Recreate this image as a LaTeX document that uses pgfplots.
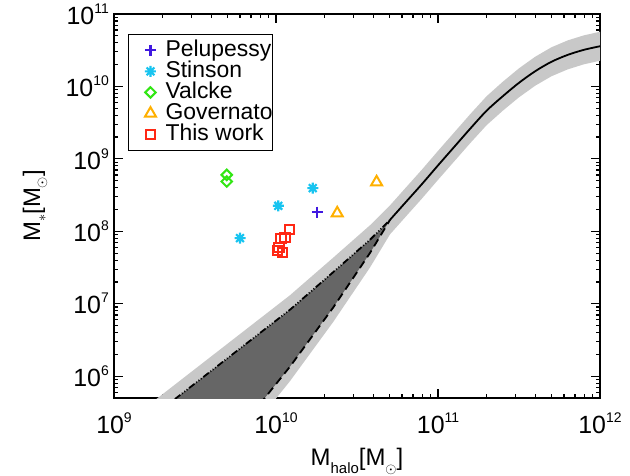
\documentclass[border=0pt]{standalone}
\usepackage{pgfplots}
\pgfplotsset{compat=1.18}
\usepackage{fontspec}
\setmainfont{Liberation Sans}
\definecolor{lgray}{RGB}{200,200,200}
\definecolor{dgray}{RGB}{102,102,102}
\definecolor{cpel}{RGB}{64,24,224}
\definecolor{csti}{RGB}{24,196,240}
\definecolor{cval}{RGB}{50,230,20}
\definecolor{cgov}{RGB}{255,176,0}
\definecolor{cthis}{RGB}{255,40,20}
\newcommand{\tl}[1]{10\raisebox{11bp}{\fontsize{14}{14}\selectfont #1}}
\pgfdeclareplotmark{ast8}{%
 \pgfpathmoveto{\pgfqpoint{-\pgfplotmarksize}{0pt}}\pgfpathlineto{\pgfqpoint{\pgfplotmarksize}{0pt}}%
 \pgfpathmoveto{\pgfqpoint{0pt}{-\pgfplotmarksize}}\pgfpathlineto{\pgfqpoint{0pt}{\pgfplotmarksize}}%
 \pgfpathmoveto{\pgfqpoint{-0.707\pgfplotmarksize}{-0.707\pgfplotmarksize}}\pgfpathlineto{\pgfqpoint{0.707\pgfplotmarksize}{0.707\pgfplotmarksize}}%
 \pgfpathmoveto{\pgfqpoint{-0.707\pgfplotmarksize}{0.707\pgfplotmarksize}}\pgfpathlineto{\pgfqpoint{0.707\pgfplotmarksize}{-0.707\pgfplotmarksize}}%
 \pgfusepathqstroke}
\begin{document}
\begin{tikzpicture}
\path[use as bounding box] (-114bp,-78bp) rectangle (516bp,398bp);
\begin{axis}[
 at={(0,0)}, anchor=south west,
 scale only axis, width=486bp, height=384bp,
 xmin=9, xmax=12, ymin=5.69897, ymax=11,
 xtick={9,10,11,12}, xticklabels={\tl{9},\tl{10},\tl{11},\tl{12}},
 ytick={6,7,8,9,10,11}, yticklabels={\tl{6},\tl{7},\tl{8},\tl{9},\tl{10},\tl{11}},
 minor xtick={9.30103,9.47712,9.60206,9.69897,9.77815,9.84510,9.90309,9.95424,
   10.30103,10.47712,10.60206,10.69897,10.77815,10.84510,10.90309,10.95424,
   11.30103,11.47712,11.60206,11.69897,11.77815,11.84510,11.90309,11.95424},
 minor ytick={5.77815,5.84510,5.90309,5.95424,
   6.30103,6.47712,6.60206,6.69897,6.77815,6.84510,6.90309,6.95424,
   7.30103,7.47712,7.60206,7.69897,7.77815,7.84510,7.90309,7.95424,
   8.30103,8.47712,8.60206,8.69897,8.77815,8.84510,8.90309,8.95424,
   9.30103,9.47712,9.60206,9.69897,9.77815,9.84510,9.90309,9.95424,
   10.30103,10.47712,10.60206,10.69897,10.77815,10.84510,10.90309,10.95424},
 tick align=inside, xtick pos=both, ytick pos=both,
 major tick length=9bp, minor tick length=4.5bp,
 every tick/.style={black, line width=1.2bp},
 axis line style={line width=1.6bp},
 tick label style={font=\fontsize{25}{25}\selectfont, inner sep=0pt},
 xticklabel style={anchor=base, yshift=-35bp},
 yticklabel style={anchor=east, xshift=-5bp},
 xlabel={M\raisebox{-8bp}{\fontsize{15}{15}\selectfont halo}[M\raisebox{-8bp}{\fontsize{15}{15}\selectfont$\odot$}]},
 ylabel={M\raisebox{-6bp}{\fontsize{15}{15}\selectfont$\ast$}[M\raisebox{-6bp}{\fontsize{15}{15}\selectfont$\odot$}]},
 label style={font=\fontsize{24}{24}\selectfont},
 xlabel style={at={(axis description cs:0.5,-0.177)}, anchor=base},
 ylabel style={at={(axis description cs:-0.1626,0.5)}, anchor=center},
 legend style={at={(axis description cs:0.0288,0.9479)}, anchor=north west,
   draw=black, line width=0.8bp, font=\fontsize{23}{21}\selectfont,
   inner xsep=0bp, inner ysep=5.5bp, row sep=0pt, column sep=0pt,
   nodes={inner sep=0pt, text height=17bp, text depth=4bp},
   legend cell align=left},
 legend image code/.code={\path (0bp,0bp) (35bp,0bp); \draw[mark repeat=2,mark phase=2,#1] plot coordinates {(11bp,0bp)(21bp,0bp)(31bp,0bp)};},
]
% light grey scatter band
\addplot[fill=lgray, draw=none, forget plot] coordinates {
 (9.10,5.404) (9.387,5.903) (10.086,7.117) (10.35,7.63) (10.58,8.083) (10.704,8.359)
 (10.80,8.60) (10.90,8.85) (11.00,9.11) (11.10,9.365) (11.20,9.62) (11.30,9.865)
 (11.40,10.065) (11.50,10.25) (11.60,10.41) (11.70,10.54) (11.80,10.635) (11.90,10.705)
 (12.00,10.755)
 (12.00,10.355) (11.90,10.305) (11.80,10.235) (11.70,10.14) (11.60,10.01) (11.50,9.85)
 (11.40,9.665) (11.30,9.465) (11.20,9.22) (11.10,8.965) (11.00,8.71) (10.90,8.45)
 (10.80,8.20) (10.704,7.959) (10.58,7.50) (10.352,6.745) (10.086,5.931)
 (9.932,5.503) (9.85,5.275)
} -- cycle;
% dark grey region between the two extrapolations
\addplot[fill=dgray, draw=none, forget plot] coordinates {
 (9.20,5.378) (9.387,5.703) (10.086,6.917) (10.35,7.43) (10.58,7.883) (10.704,8.159)
 (10.58,7.70) (10.352,6.945) (10.086,6.131) (9.932,5.703) (9.85,5.475)
} -- cycle;
% solid relation
\addplot[black, line width=1.8bp, smooth, tension=0.5, forget plot] coordinates {
 (10.704,8.159) (10.80,8.40) (10.90,8.65) (11.00,8.91) (11.10,9.165) (11.20,9.42)
 (11.30,9.665) (11.40,9.865) (11.50,10.05) (11.60,10.21) (11.70,10.34) (11.80,10.435)
 (11.90,10.505) (12.00,10.555)
};
% dash-dot extrapolation
\addplot[black, line width=1.8bp, dash pattern=on 7bp off 2bp on 1bp off 2bp on 1bp off 2bp on 1bp off 2bp, forget plot] coordinates {
 (9.20,5.378) (9.387,5.703) (10.086,6.917) (10.35,7.43) (10.58,7.883) (10.704,8.159)
};
% dashed extrapolation
\addplot[black, line width=1.8bp, dash pattern=on 8bp off 5bp, forget plot] coordinates {
 (9.85,5.475) (9.932,5.703) (10.086,6.131) (10.352,6.945) (10.58,7.70) (10.704,8.159)
};
% simulations
\addplot[only marks, mark=+, mark size=5.5bp, color=cpel, line width=2.2bp] coordinates {
 (10.255,8.265)
};
\addlegendentry{Pelupessy}
\addplot[only marks, mark=ast8, mark size=5.5bp, color=csti, line width=2.2bp] coordinates {
 (9.778,7.906) (10.014,8.352) (10.227,8.596)
};
\addlegendentry{Stinson}
\addplot[only marks, mark=square, mark size=3.7bp, mark options={rotate=45}, color=cval, line width=2bp] coordinates {
 (9.696,8.779) (9.696,8.687)
};
\addlegendentry{Valcke}
\addplot[only marks, mark=triangle, mark size=6.3bp, color=cgov, line width=2bp] coordinates {
 (10.621,8.679) (10.378,8.251)
};
\addlegendentry{Governato}
\addplot[only marks, mark=square, mark size=4.6bp, color=cthis, line width=2bp] coordinates {
 (10.082,8.021) (10.056,7.920) (10.031,7.906) (10.019,7.782) (10.008,7.735) (10.039,7.708)
};
\addlegendentry{This work}
\end{axis}
\end{tikzpicture}
\end{document}
